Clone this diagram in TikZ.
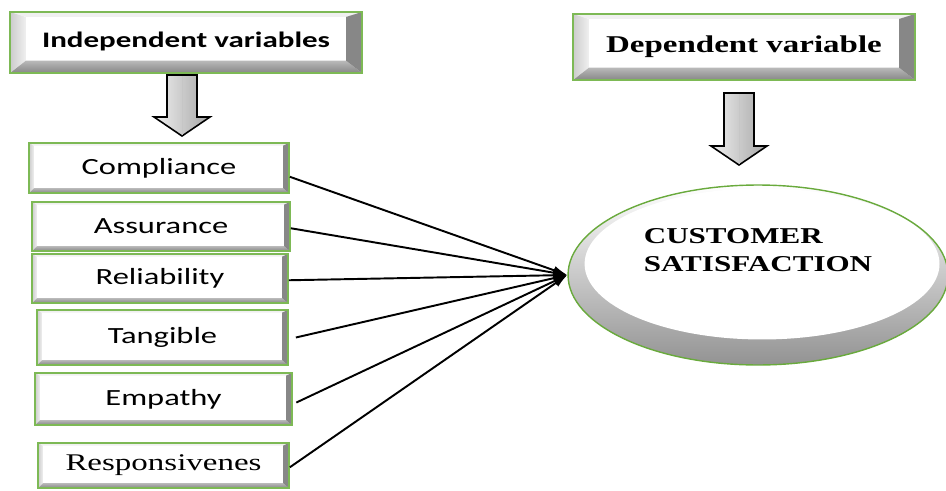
\documentclass[tikz,border=0pt]{standalone}
\usepackage{fontspec}
\setmainfont{Liberation Serif}
\newfontfamily\boxfont[FakeStretch=1.4]{Carlito}
\newfontfamily\serifwide[FakeStretch=1.37]{Liberation Serif}
\usetikzlibrary{shapes.geometric, arrows.meta}
\definecolor{boxgreen}{RGB}{125,185,85}
\definecolor{ellgreen}{RGB}{105,170,60}
\definecolor{bevdark}{RGB}{135,135,135}
\tikzset{
    bevelbox/.style n args={4}{draw=boxgreen, line width=1pt, fill=white, inner sep=0pt,
        path picture={
            \coordinate (bsw) at (path picture bounding box.south west) ;
            \coordinate (bnw) at (path picture bounding box.north west) ;
            \coordinate (bne) at (path picture bounding box.north east) ;
            \coordinate (bse) at (path picture bounding box.south east) ;
            \fill[gray!12] (bnw) -- (bne) -- ([shift={(-#3,-#2)}]bne) -- ([shift={(#1,-#2)}]bnw) -- cycle ;
            \fill[left color=gray!40, right color=gray!12] (bnw) -- ([shift={(#1,-#2)}]bnw) -- ([shift={(#1,#4)}]bsw) -- (bsw) -- cycle ;
            \fill[top color=gray!55, bottom color=bevdark] (bsw) -- ([shift={(#1,#4)}]bsw) -- ([shift={(-#3,#4)}]bse) -- (bse) -- cycle ;
            \fill[bevdark] (bse) -- ([shift={(-#3,#4)}]bse) -- ([shift={(-#3,-#2)}]bne) -- (bne) -- cycle ;
        }},
    headbox/.style={bevelbox={9pt}{2.8pt}{9pt}{7pt}},
    varbox/.style={bevelbox={2.8pt}{1.5pt}{3.4pt}{2.8pt}, font=\boxfont\fontsize{13.2}{15}\selectfont},
    respbox/.style={bevelbox={2.8pt}{1.5pt}{3.4pt}{2.8pt}, font=\rmfamily\fontsize{13.6}{15}\selectfont},
    satisf/.style={ellipse, minimum width=7.6cm, minimum height=3.6cm, draw=ellgreen, line width=0.8pt,
        path picture={
            \fill[top color=white, bottom color=gray!85] (path picture bounding box.south west) rectangle (path picture bounding box.north east) ;
            \fill[white] ([shift={(2.3pt,6.3pt)}]path picture bounding box.center) ellipse [x radius=101pt, y radius=43pt] ;
        }},
    link/.style={line width=1.1pt, -{Latex[length=8pt, width=5pt]}},
    pics/blockarrow/.style={code={
        \draw[line width=0.9pt, left color=gray!12, right color=gray!70] (-15,0) -- (15,0) -- (15,#1-19) -- (28,#1-19) -- (0,#1) -- (-28,#1-19) -- (-15,#1-19) -- cycle ;
        \draw[gray!45, line width=0.5pt] (0,1) -- (0,#1-1) ;
    }}
}
\begin{document}
\begin{tikzpicture}[x=0.02cm, y=-0.02cm]
    \useasboundingbox (0,0) rectangle (946,490) ;
    \node (indep) [headbox, minimum width=7.04cm, minimum height=1.22cm,
        font=\boxfont\bfseries\fontsize{12.6}{15}\selectfont] at (186,42.5) {\raisebox{3pt}{Independent variables}} ;
    \node (dep) [headbox, minimum width=6.84cm, minimum height=1.32cm,
        font=\serifwide\bfseries\fontsize{13.7}{16}\selectfont] at (744,47) {\raisebox{3pt}{Dependent variable}} ;
    \pic at (182,75) {blockarrow=61} ;
    \pic at (739,93) {blockarrow=72} ;
    \node (comp) [varbox, minimum width=5.2cm, minimum height=1.0cm] at (159,168) {Compliance} ;
    \node (assu) [varbox, minimum width=5.16cm, minimum height=0.98cm] at (161,226.5) {Assurance} ;
    \node (reli) [varbox, minimum width=5.12cm, minimum height=0.98cm] at (160,278.5) {Reliability} ;
    \node (tang) [varbox, minimum width=5.02cm, minimum height=1.1cm] at (162.5,337.5) {Tangible} ;
    \node (empa) [varbox, minimum width=5.14cm, minimum height=1.04cm] at (163.5,399) {Empathy} ;
    \node (resp) [respbox, minimum width=5.02cm, minimum height=0.9cm] at (163.5,465.5) {\scalebox{1.38}[1]{Responsivenes}} ;
    \node (cs) [satisf, label={[name=cstext, align=left, yshift=14pt,
        font=\serifwide\bfseries\fontsize{12.9}{16}\selectfont]center:CUSTOMER\\SATISFACTION}] at (758,275) {} ;
    \draw[link] ([yshift=-5pt]comp.east) -- (cs.west) ;
    \draw[link] ([yshift=-1pt]assu.east) -- (cs.west) ;
    \draw[link] ([yshift=-1pt]reli.east) -- (cs.west) ;
    \draw[link] ([xshift=4pt]tang.east) -- (cs.west) ;
    \draw[link] ([xshift=2pt,yshift=-2pt]empa.east) -- (cs.west) ;
    \draw[link] ([yshift=-1pt]resp.east) -- (cs.west) ;
\end{tikzpicture}
\end{document}
